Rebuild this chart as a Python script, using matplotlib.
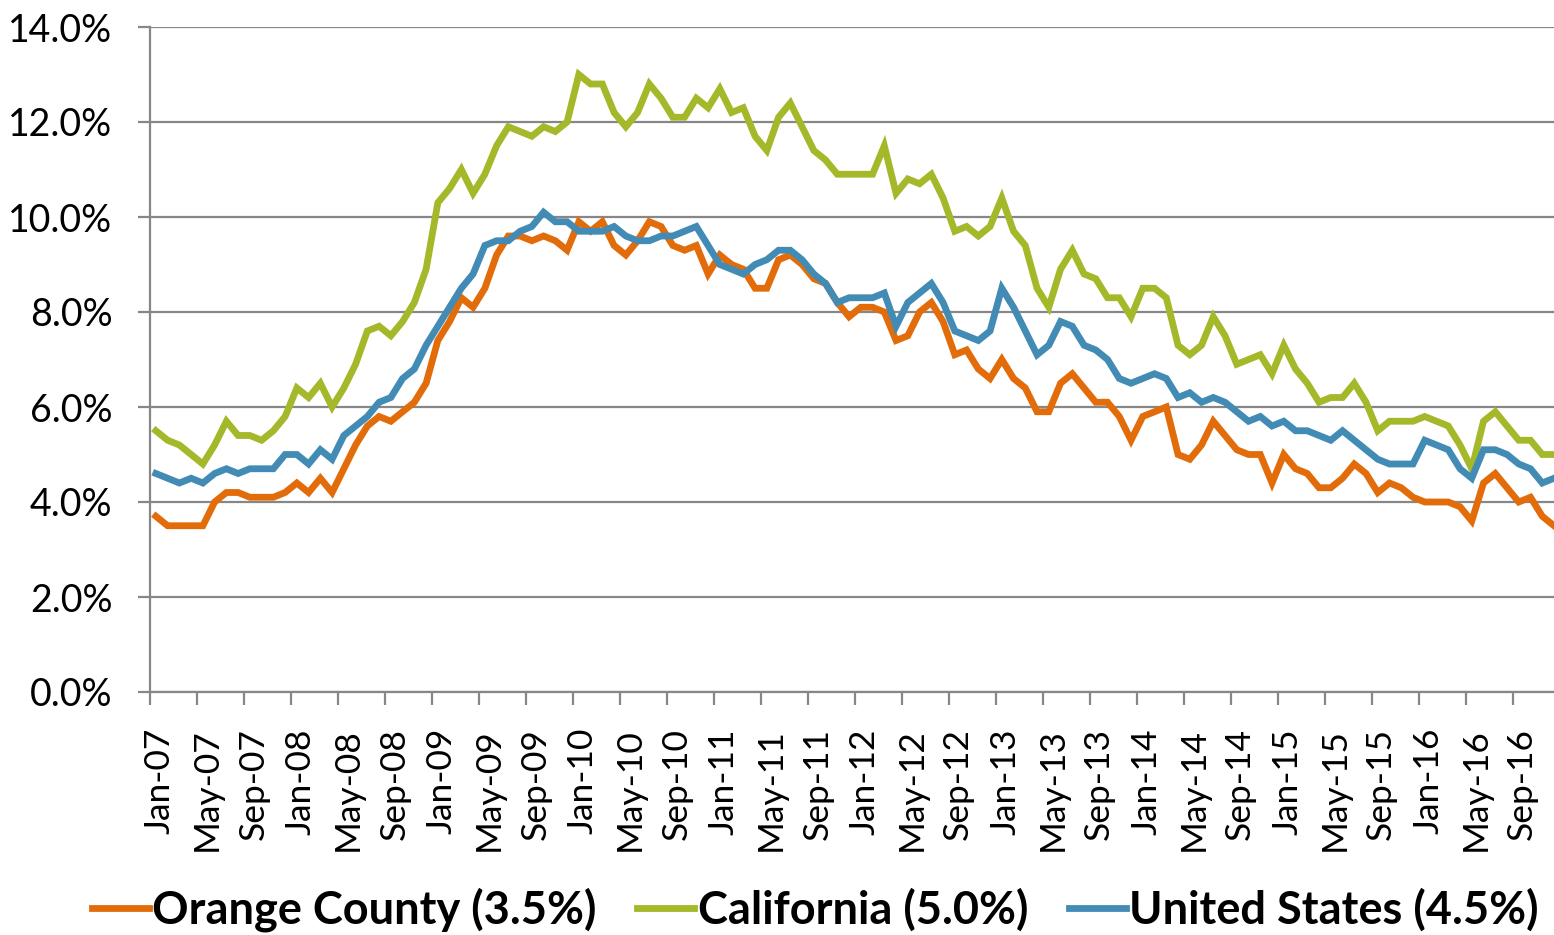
import numpy as np
import matplotlib
matplotlib.use("Agg")
import matplotlib.pyplot as plt
from matplotlib.ticker import FuncFormatter

plt.rcParams['font.family'] = ['Lato', 'DejaVu Sans']

# monthly unemployment rate, Jan-07 .. Dec-16 (%)
orange_county = [
    3.7, 3.5, 3.5, 3.5, 3.5, 4.0, 4.2, 4.2, 4.1, 4.1, 4.1, 4.2,
    4.4, 4.2, 4.5, 4.2, 4.7, 5.2, 5.6, 5.8, 5.7, 5.9, 6.1, 6.5,
    7.4, 7.8, 8.3, 8.1, 8.5, 9.2, 9.6, 9.6, 9.5, 9.6, 9.5, 9.3,
    9.9, 9.7, 9.9, 9.4, 9.2, 9.5, 9.9, 9.8, 9.4, 9.3, 9.4, 8.8,
    9.2, 9.0, 8.9, 8.5, 8.5, 9.1, 9.2, 9.0, 8.7, 8.6, 8.2, 7.9,
    8.1, 8.1, 8.0, 7.4, 7.5, 8.0, 8.2, 7.8, 7.1, 7.2, 6.8, 6.6,
    7.0, 6.6, 6.4, 5.9, 5.9, 6.5, 6.7, 6.4, 6.1, 6.1, 5.8, 5.3,
    5.8, 5.9, 6.0, 5.0, 4.9, 5.2, 5.7, 5.4, 5.1, 5.0, 5.0, 4.4,
    5.0, 4.7, 4.6, 4.3, 4.3, 4.5, 4.8, 4.6, 4.2, 4.4, 4.3, 4.1,
    4.0, 4.0, 4.0, 3.9, 3.6, 4.4, 4.6, 4.3, 4.0, 4.1, 3.7, 3.5,
]
california = [
    5.5, 5.3, 5.2, 5.0, 4.8, 5.2, 5.7, 5.4, 5.4, 5.3, 5.5, 5.8,
    6.4, 6.2, 6.5, 6.0, 6.4, 6.9, 7.6, 7.7, 7.5, 7.8, 8.2, 8.9,
    10.3, 10.6, 11.0, 10.5, 10.9, 11.5, 11.9, 11.8, 11.7, 11.9, 11.8, 12.0,
    13.0, 12.8, 12.8, 12.2, 11.9, 12.2, 12.8, 12.5, 12.1, 12.1, 12.5, 12.3,
    12.7, 12.2, 12.3, 11.7, 11.4, 12.1, 12.4, 11.9, 11.4, 11.2, 10.9, 10.9,
    10.9, 10.9, 11.5, 10.5, 10.8, 10.7, 10.9, 10.4, 9.7, 9.8, 9.6, 9.8,
    10.4, 9.7, 9.4, 8.5, 8.1, 8.9, 9.3, 8.8, 8.7, 8.3, 8.3, 7.9,
    8.5, 8.5, 8.3, 7.3, 7.1, 7.3, 7.9, 7.5, 6.9, 7.0, 7.1, 6.7,
    7.3, 6.8, 6.5, 6.1, 6.2, 6.2, 6.5, 6.1, 5.5, 5.7, 5.7, 5.7,
    5.8, 5.7, 5.6, 5.2, 4.7, 5.7, 5.9, 5.6, 5.3, 5.3, 5.0, 5.0,
]
united_states = [
    4.6, 4.5, 4.4, 4.5, 4.4, 4.6, 4.7, 4.6, 4.7, 4.7, 4.7, 5.0,
    5.0, 4.8, 5.1, 4.9, 5.4, 5.6, 5.8, 6.1, 6.2, 6.6, 6.8, 7.3,
    7.7, 8.1, 8.5, 8.8, 9.4, 9.5, 9.5, 9.7, 9.8, 10.1, 9.9, 9.9,
    9.7, 9.7, 9.7, 9.8, 9.6, 9.5, 9.5, 9.6, 9.6, 9.7, 9.8, 9.4,
    9.0, 8.9, 8.8, 9.0, 9.1, 9.3, 9.3, 9.1, 8.8, 8.6, 8.2, 8.3,
    8.3, 8.3, 8.4, 7.7, 8.2, 8.4, 8.6, 8.2, 7.6, 7.5, 7.4, 7.6,
    8.5, 8.1, 7.6, 7.1, 7.3, 7.8, 7.7, 7.3, 7.2, 7.0, 6.6, 6.5,
    6.6, 6.7, 6.6, 6.2, 6.3, 6.1, 6.2, 6.1, 5.9, 5.7, 5.8, 5.6,
    5.7, 5.5, 5.5, 5.4, 5.3, 5.5, 5.3, 5.1, 4.9, 4.8, 4.8, 4.8,
    5.3, 5.2, 5.1, 4.7, 4.5, 5.1, 5.1, 5.0, 4.8, 4.7, 4.4, 4.5,
]
tick_labels = [
    "Jan-07", "May-07", "Sep-07", "Jan-08", "May-08", "Sep-08",
    "Jan-09", "May-09", "Sep-09", "Jan-10", "May-10", "Sep-10",
    "Jan-11", "May-11", "Sep-11", "Jan-12", "May-12", "Sep-12",
    "Jan-13", "May-13", "Sep-13", "Jan-14", "May-14", "Sep-14",
    "Jan-15", "May-15", "Sep-15", "Jan-16", "May-16", "Sep-16",
]
series_names = ["Orange County (3.5%)", "California (5.0%)", "United States (4.5%)"]
colors = ["#E36C0A", "#A5B82A", "#428BB5"]

W, H = 1554, 935
fig = plt.figure(figsize=(W / 100, H / 100), dpi=100)
ax = fig.add_axes([150 / W, 1 - 692 / H, (W - 150) / W, (692 - 27) / H])

x = np.arange(len(orange_county))
for ys, c, name in zip([orange_county, california, united_states], colors, series_names):
    ax.plot(x, ys, color=c, lw=4.9, label=name, solid_joinstyle='miter')

grid_c = "#878787"
ax.set_ylim(0, 14)
ax.set_yticks(np.arange(0, 15, 2))
ax.yaxis.set_major_formatter(FuncFormatter(lambda v, p: f"{v:.1f}%"))
ax.grid(axis='y', color=grid_c, lw=1.6)
ax.set_axisbelow(True)

# category axis: marks between months, labels on every 4th month
ax.set_xlim(-0.5, 119.0)
ax.set_xticks(np.arange(-0.5, 119, 4))
ax.set_xticklabels([])
ax.set_xticks(np.arange(0.3, 120, 4), minor=True)
ax.set_xticklabels(tick_labels, minor=True, rotation=90, fontsize=25.5)

for s in ['top', 'right']:
    ax.spines[s].set_visible(False)
for s in ['left', 'bottom']:
    ax.spines[s].set_color(grid_c)
    ax.spines[s].set_linewidth(1.6)

ax.tick_params(axis='y', which='major', length=9, width=1.6, color=grid_c,
               labelsize=27, pad=18)
ax.tick_params(axis='x', which='major', length=9, width=1.6, color=grid_c)
ax.tick_params(axis='x', which='minor', length=0, pad=26)

fig.legend(loc='center', bbox_to_anchor=(0.5245, 1 - 910 / H), ncol=3,
           frameon=False, handlelength=1.27, handletextpad=0.07,
           columnspacing=0.9, prop={'weight': 'bold', 'size': 32.5})

fig.savefig("out.png", dpi=100)
